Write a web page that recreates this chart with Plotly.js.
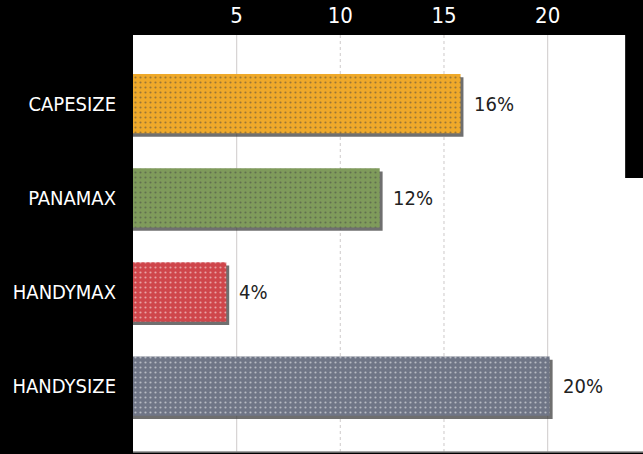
<!DOCTYPE html>
<html>
<head>
<meta charset="utf-8">
<script src="https://cdn.plot.ly/plotly-3.0.1.min.js"></script>
<style>html,body{margin:0;padding:0;background:#000;}#chart{width:643px;height:454px;}</style>
</head>
<body>
<div id="chart"></div>
<script>
const categories = ["CAPESIZE", "PANAMAX", "HANDYMAX", "HANDYSIZE"];
const values = [15.8, 11.9, 4.5, 20.1];
const valueLabels = ["16%", "12%", "4%", "20%"];
const barColors = ["#EFA92A", "#7F9B5B", "#CF464B", "#6F7586"];
const dotColors = ["#F3B935", "#879F63", "#D25158", "#767C8E"];
const xTicks = [5, 10, 15, 20];
const gridDash = ["solid", "dot", "dot", "solid"];

const FONT = '"Liberation Sans Narrow", "DejaVu Sans Condensed", "Roboto", sans-serif';
const barWidth = 0.63;

const shadow = {
  type: 'bar', orientation: 'h',
  y: categories, x: values.map(v => v + 0.14),
  width: barWidth, offset: -barWidth / 2 + 0.035,
  marker: {color: 'rgba(50,50,50,0.7)', line: {width: 0}},
  hoverinfo: 'skip', showlegend: false
};
const bars = {
  type: 'bar', orientation: 'h',
  y: categories, x: values,
  width: barWidth, offset: -barWidth / 2,
  marker: {color: barColors, opacity: 1, line: {width: 0},
    pattern: {shape: '.', fillmode: 'overlay', fgcolor: dotColors, size: 5, solidity: 0.15}},
  showlegend: false
};

const shapes = xTicks.map((t, i) => ({
  type: 'line', xref: 'x', yref: 'paper', x0: t, x1: t, y0: 0, y1: 1,
  line: {color: '#D6D3D3', width: 1.2, dash: gridDash[i]}, layer: 'below'
}));
shapes.push({type: 'rect', xref: 'paper', yref: 'paper', x0: 0.965, x1: 1.01, y0: 0.657, y1: 1.01,
  fillcolor: '#000', line: {width: 0}, layer: 'above'});
shapes.push({type: 'line', xref: 'paper', yref: 'paper', x0: 0, x1: 1, y0: 0, y1: 0,
  line: {color: '#888', width: 1.5}});

const annotations = categories.map((c, i) => ({
  x: values[i], y: c, xref: 'x', yref: 'y', text: valueLabels[i],
  showarrow: false, xanchor: 'left', xshift: 11,
  font: {family: FONT, size: 20, color: '#222'}
}));

const layout = {
  width: 643, height: 454,
  margin: {l: 133, r: 0, t: 35, b: 2, pad: 0},
  paper_bgcolor: '#000', plot_bgcolor: '#fff',
  barmode: 'overlay',
  xaxis: {side: 'top', range: [0, 24.6], tickvals: xTicks, ticktext: xTicks.map(String),
    showgrid: false, zeroline: false, showline: false, ticks: 'outside', ticklen: 2, tickcolor: '#000',
    tickfont: {family: FONT, size: 22, color: '#fff'}, fixedrange: true},
  yaxis: {type: 'category', categoryorder: 'array', categoryarray: categories,
    range: [3.70, -0.73], showgrid: false, zeroline: false, showline: false,
    ticks: 'outside', ticklen: 12, tickcolor: '#000',
    tickfont: {family: FONT, size: 20, color: '#fff'}, fixedrange: true},
  shapes: shapes,
  annotations: annotations
};

Plotly.newPlot('chart', [shadow, bars], layout, {staticPlot: true, displayModeBar: false});
</script>
</body>
</html>
